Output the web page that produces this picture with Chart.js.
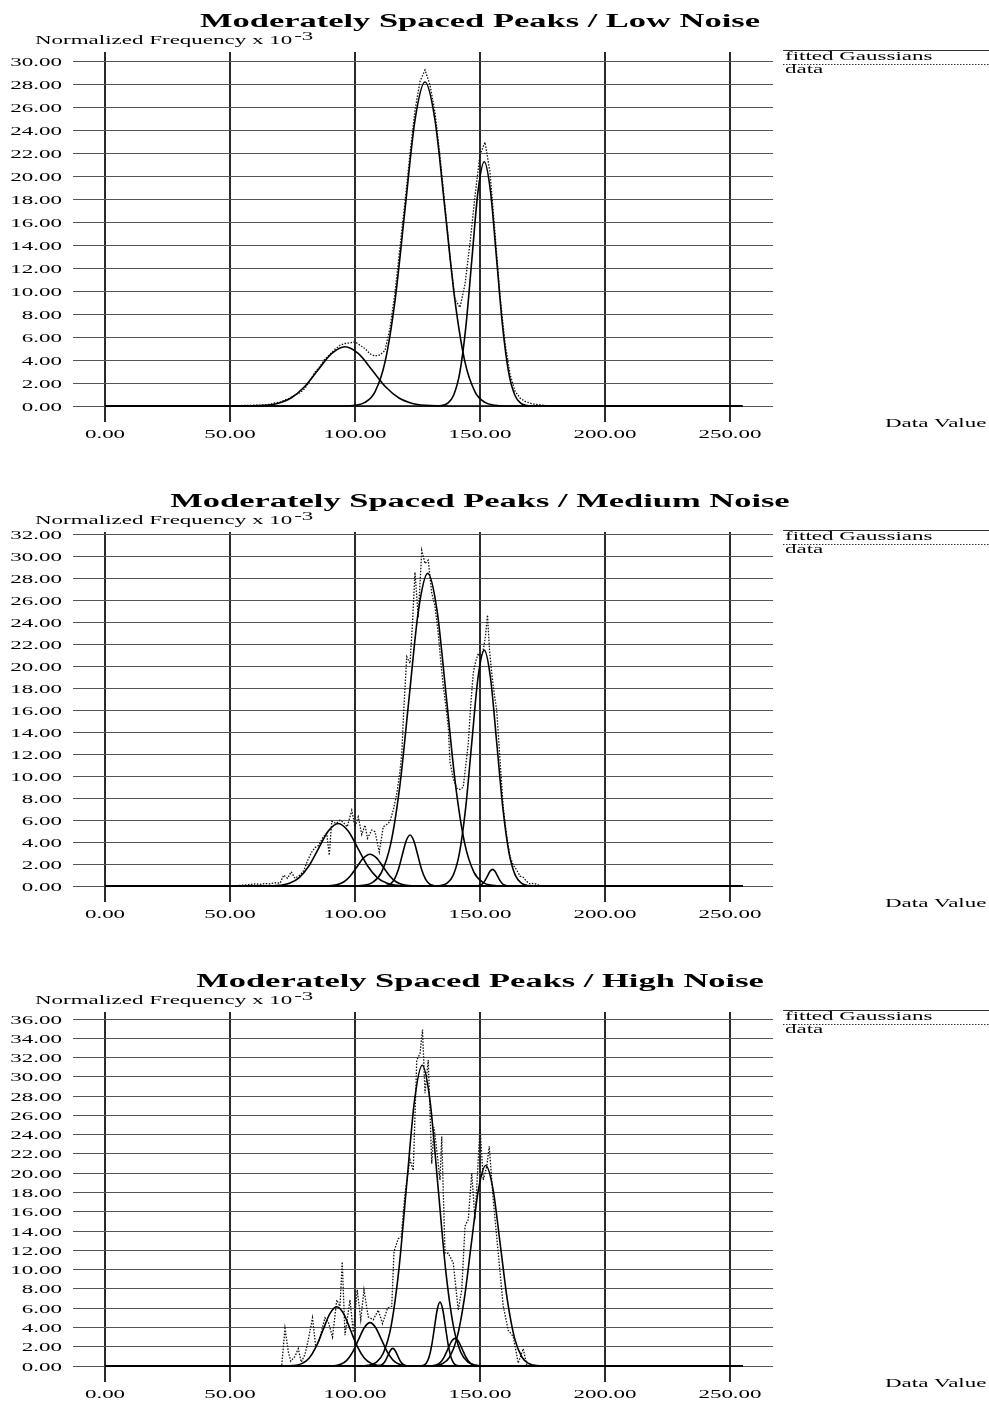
<!DOCTYPE html>
<html>
<head>
<meta charset="utf-8">
<title>Moderately Spaced Peaks</title>
<script src="https://cdn.jsdelivr.net/npm/chart.js@4.4.1/dist/chart.umd.min.js"></script>
<style>
  html, body { margin: 0; padding: 0; background: #fff; overflow: hidden; }
  canvas { display: block; }
</style>
</head>
<body>
<canvas id="low" width="989" height="480"></canvas>
<canvas id="medium" width="989" height="480"></canvas>
<canvas id="high" width="989" height="480"></canvas>
<script>
// ---- data ----
const titles = [
  "Moderately Spaced Peaks / Low Noise",
  "Moderately Spaced Peaks / Medium Noise",
  "Moderately Spaced Peaks / High Noise",
];
const xTicks = [0, 50, 100, 150, 200, 250];
const lowYTicks = [0, 2, 4, 6, 8, 10, 12, 14, 16, 18, 20, 22, 24, 26, 28, 30];
const medYTicks = [0, 2, 4, 6, 8, 10, 12, 14, 16, 18, 20, 22, 24, 26, 28, 30, 32];
const highYTicks = [0, 2, 4, 6, 8, 10, 12, 14, 16, 18, 20, 22, 24, 26, 28, 30, 32, 34, 36];

// Low noise: fitted curves
const lowFit1 = [[0,0],[52.8,0],[58.2,0.011],[63.6,0.057],[69,0.227],[74.4,0.7],[79.8,1.68],[85.2,3.14],[90.6,4.56],[96,5.17],[101.4,4.56],[106.8,3.14],[112.2,1.68],[117.6,0.7],[123,0.227],[128.4,0.057],[133.8,0.011],[139.2,0],[255,0]];
const lowFit2 = [[0,0],[96,0],[100,0.06],[104,0.31],[108,1.24],[112,3.82],[116,9.17],[120,17.13],[124,24.93],[128,28.25],[132,24.93],[136,17.13],[140,9.17],[144,3.82],[148,1.24],[152,0.31],[156,0.06],[160,0],[255,0]];
const lowFit3 = [[0,0],[132.1,0],[134.55,0.047],[137,0.236],[139.45,0.935],[141.9,2.88],[144.35,6.92],[146.8,12.92],[149.25,18.8],[151.7,21.3],[154.15,18.8],[156.6,12.92],[159.05,6.92],[161.5,2.88],[163.95,0.935],[166.4,0.236],[168.85,0.047],[171.3,0],[255,0]];
const lowData = [[40,0],[42,0.01],[44,0.02],[46,0.01],[48,0.03],[50,0.02],[52,0.04],[54,0.03],[56,0.06],[58,0.05],[60,0.08],[62,0.06],[64,0.12],[66,0.15],[68,0.28],[70,0.33],[72,0.52],[74,0.7],[76,0.95],[78,1.15],[80,1.55],[82,2.2],[84,2.95],[86,3.45],[88,4.1],[90,4.5],[92,4.95],[94,5.3],[96,5.45],[98,5.5],[100,5.6],[102,5.3],[104,5.0],[106,4.55],[108,4.35],[110,4.45],[112,4.85],[114,6.8],[116,9.9],[118,13.9],[120,17.8],[122,22.0],[124,25.8],[126,28.3],[128,29.3],[130,28.0],[132,25.6],[134,21.8],[136,17.4],[138,13.0],[140,9.3],[142,8.6],[144,10.6],[146,14.2],[148,18.3],[150,21.9],[152,23.0],[154,20.4],[156,15.1],[158,9.6],[160,5.5],[162,2.8],[164,1.3],[166,0.7],[168,0.4],[170,0.25],[172,0.15],[174,0.1],[176,0.05],[178,0.02],[180,0]];

// Medium noise: fitted curves
const medFit1 = [[0,0],[62.1,0],[66,0.013],[69.9,0.063],[73.8,0.25],[77.7,0.77],[81.6,1.85],[85.5,3.46],[89.4,5.03],[93.3,5.7],[97.2,5.03],[101.1,3.46],[105,1.85],[108.9,0.77],[112.8,0.25],[116.7,0.063],[120.6,0.013],[124.5,0],[255,0]];
const medFit2 = [[0,0],[85.2,0],[87.8,0.006],[90.4,0.032],[93,0.127],[95.6,0.39],[98.2,0.94],[100.8,1.76],[103.4,2.56],[106,2.9],[108.6,2.56],[111.2,1.76],[113.8,0.94],[116.4,0.39],[119,0.127],[121.6,0.032],[124.2,0.006],[126.8,0],[255,0]];
const medFit3 = [[0,0],[109.6,0],[111.15,0.01],[112.7,0.052],[114.25,0.204],[115.8,0.63],[117.35,1.51],[118.9,2.82],[120.45,4.1],[122,4.65],[123.55,4.1],[125.1,2.82],[126.65,1.51],[128.2,0.63],[129.75,0.204],[131.3,0.052],[132.85,0.01],[134.4,0],[255,0]];
const medFit4 = [[0,0],[99.5,0],[103.2,0.063],[106.9,0.316],[110.6,1.25],[114.3,3.86],[118,9.25],[121.7,17.29],[125.4,25.15],[129.1,28.5],[132.8,25.15],[136.5,17.29],[140.2,9.25],[143.9,3.86],[147.6,1.25],[151.3,0.316],[155,0.063],[158.7,0],[255,0]];
const medFit5 = [[0,0],[131.7,0],[134.2,0.047],[136.7,0.239],[139.2,0.944],[141.7,2.91],[144.2,6.98],[146.7,13.04],[149.2,18.97],[151.7,21.5],[154.2,18.97],[156.7,13.04],[159.2,6.98],[161.7,2.91],[164.2,0.944],[166.7,0.239],[169.2,0.047],[171.7,0],[255,0]];
const medFit6 = [[0,0],[147,0],[148,0.003],[149,0.017],[150,0.067],[151,0.206],[152,0.49],[153,0.92],[154,1.34],[155,1.52],[156,1.34],[157,0.92],[158,0.49],[159,0.206],[160,0.067],[161,0.017],[162,0.003],[163,0],[255,0]];
const medData = [[50,0],[54,0.05],[56,0.1],[58,0.12],[60,0.2],[62,0.15],[64,0.22],[66,0.2],[68,0.3],[70,0.25],[71.5,1.0],[73,0.7],[74.5,1.3],[76,0.7],[78,1.0],[79.5,1.4],[81,2.3],[82.7,3.1],[84,3.5],[85.5,3.7],[87.3,4.5],[88.7,4.8],[89.7,2.8],[90.7,5.9],[92.4,5.7],[94,6.0],[95.3,5.8],[96.9,5.4],[98.7,6.9],[100,5.4],[101.3,6.3],[102.7,4.7],[104,5.55],[105,4.35],[106.7,5.1],[108,4.95],[109.7,3.1],[111.3,5.4],[112.7,5.6],[114,5.9],[115.3,6.9],[116.7,8.4],[118,10.5],[118.7,12.1],[119.5,16.0],[120.7,20.9],[122,20.3],[123,24.0],[124,28.6],[125.3,24.5],[126.7,30.6],[128,29.4],[129.3,29.7],[130.7,26.7],[132,25.5],[133.3,23.0],[134.3,20.5],[135.3,18.2],[136.3,16.5],[137.3,14.5],[138,11.3],[139.3,9.8],[140.7,8.9],[142,8.8],[143.3,9.0],[144.3,11.0],[145.3,13.0],[146.3,16.5],[147.3,19.4],[148.3,20.5],[149.3,21.2],[150.3,20.8],[151.3,21.5],[152.2,22.8],[153,24.7],[153.8,21.5],[154.7,19.4],[155.7,17.5],[156.7,16.0],[158,11.5],[159.3,7.2],[160.7,4.5],[162,2.7],[163.3,1.9],[164.7,1.45],[166,0.9],[167.3,0.8],[168.7,0.4],[170,0.2],[171.5,0.25],[173.3,0.1],[175,0]];

// High noise: fitted curves
const highFit1 = [[0,0],[70.7,0],[73.45,0.0135],[76.2,0.068],[78.95,0.27],[81.7,0.83],[84.45,2.0],[87.2,3.73],[89.95,5.43],[92.7,6.15],[95.45,5.43],[98.2,3.73],[100.95,2.0],[103.7,0.83],[106.45,0.27],[109.2,0.068],[111.95,0.0135],[114.7,0],[255,0]];
const highFit2 = [[0,0],[87.6,0],[89.9,0.01],[92.2,0.05],[94.5,0.198],[96.8,0.61],[99.1,1.46],[101.4,2.73],[103.7,3.97],[106,4.5],[108.3,3.97],[110.6,2.73],[112.9,1.46],[115.2,0.61],[117.5,0.198],[119.8,0.05],[122.1,0.01],[124.4,0],[255,0]];
const highFit3 = [[0,0],[107.5,0],[108.45,0.004],[109.4,0.02],[110.35,0.08],[111.3,0.248],[112.25,0.594],[113.2,1.11],[114.15,1.615],[115.1,1.83],[116.05,1.615],[117,1.11],[117.95,0.594],[118.9,0.248],[119.85,0.08],[120.8,0.02],[121.75,0.004],[122.7,0],[255,0]];
const highFit4 = [[0,0],[102.1,0],[105.2,0.069],[108.3,0.346],[111.4,1.37],[114.5,4.22],[117.6,10.13],[120.7,18.92],[123.8,27.53],[126.9,31.2],[130,27.53],[133.1,18.92],[136.2,10.13],[139.3,4.22],[142.4,1.37],[145.5,0.346],[148.6,0.069],[151.7,0],[255,0]];
const highFit5 = [[0,0],[125.2,0],[126.3,0.015],[127.4,0.074],[128.5,0.29],[129.6,0.9],[130.7,2.16],[131.8,4.03],[132.9,5.86],[134,6.64],[135.1,5.86],[136.2,4.03],[137.3,2.16],[138.4,0.9],[139.5,0.29],[140.6,0.074],[141.7,0.015],[142.8,0],[255,0]];
const highFit6 = [[0,0],[128.4,0],[129.85,0.006],[131.3,0.032],[132.75,0.126],[134.2,0.39],[135.65,0.93],[137.1,1.74],[138.55,2.53],[140,2.87],[141.45,2.53],[142.9,1.74],[144.35,0.93],[145.8,0.39],[147.25,0.126],[148.7,0.032],[150.15,0.006],[151.6,0],[255,0]];
const highFit7 = [[0,0],[129.1,0],[132,0.046],[134.9,0.23],[137.8,0.91],[140.7,2.81],[143.6,6.75],[146.5,12.62],[149.4,18.36],[152.3,20.8],[155.2,18.36],[158.1,12.62],[161,6.75],[163.9,2.81],[166.8,0.91],[169.7,0.23],[172.6,0.046],[175.5,0],[255,0]];
const highData = [[70.7,0.1],[72,3.9],[73.3,1.5],[74.3,0.5],[76,1.0],[77.3,1.8],[78.5,0.4],[80,1.2],[81.3,2.7],[83,5.0],[84.3,2.0],[85.7,2.7],[86.7,3.7],[88,5.0],[89.3,4.6],[91,3.0],[92.7,6.85],[94,6.2],[94.9,10.8],[96,3.2],[98,6.85],[99.3,3.5],[100.9,7.9],[102.3,4.8],[103.6,7.9],[105.3,5.1],[107.3,4.8],[109.3,5.8],[111,4.4],[113,6.0],[114.7,6.2],[115.6,11.9],[117.3,13.2],[118.5,13.4],[120,17.9],[122,21.4],[123.3,20.3],[124.7,31.75],[126,32.4],[127,34.9],[128,28.3],[129.3,31.75],[130.7,21.0],[131.6,24.8],[132.7,22.4],[134,19.3],[134.7,23.8],[136,11.7],[137.3,11.7],[139.3,10.7],[141.3,5.8],[142.7,7.9],[144,14.5],[145.3,15.2],[146.7,20.0],[148,15.2],[150,24.8],[151.3,19.3],[152.7,20.7],[153.7,22.8],[155.3,17.2],[157.3,11.7],[159.3,6.2],[161.3,3.7],[163.3,3.05],[165.3,0.3],[167.3,1.8],[168.7,0.1]];

// ---- drawing ----
const serif = '"Liberation Serif", "Times New Roman", serif';
let stretch = null; // the reference text is drawn wide

function wideText(ctx, text, x, y, align, font) {
  ctx.save();
  ctx.font = font;
  ctx.textAlign = align;
  ctx.textBaseline = "alphabetic";
  ctx.fillStyle = "#000";
  ctx.translate(x, y);
  ctx.scale(stretch, 1);
  ctx.fillText(text, 0, 0);
  ctx.restore();
}

const panelText = {
  id: "panelText",
  afterDraw(chart, args, opts) {
    const ctx = chart.ctx;
    if (stretch === null) {
      ctx.save();
      ctx.font = "bold 18px " + serif;
      stretch = 560 / ctx.measureText(titles[0]).width;
      ctx.restore();
    }
    const small = "12px " + serif;

    wideText(ctx, opts.title, 480, 27, "center", "bold 18px " + serif);

    // axis title with superscript
    const label = "Normalized Frequency x 10";
    ctx.save();
    ctx.font = small;
    const labelW = ctx.measureText(label).width * stretch;
    ctx.restore();
    wideText(ctx, label, 35, 44, "left", small);
    wideText(ctx, "-3", 35 + labelW + 2, 40, "left", small);

    const xs = chart.scales.x;
    const ys = chart.scales.y;
    opts.yTicks.forEach((v) => {
      wideText(ctx, v.toFixed(2), 62, ys.getPixelForValue(v) + 4.5, "right", small);
    });
    xTicks.forEach((v) => {
      wideText(ctx, v.toFixed(2), xs.getPixelForValue(v), 437.5, "center", small);
    });
    wideText(ctx, "Data Value", 885, 427, "left", small);

    // legend on the right
    ctx.save();
    ctx.strokeStyle = "#333";
    ctx.lineWidth = 1;
    ctx.beginPath();
    ctx.moveTo(783, 50.5);
    ctx.lineTo(989, 50.5);
    ctx.stroke();
    ctx.setLineDash([1.5, 1.5]);
    ctx.beginPath();
    ctx.moveTo(783, 64.5);
    ctx.lineTo(989, 64.5);
    ctx.stroke();
    ctx.restore();
    wideText(ctx, "fitted Gaussians", 785, 60, "left", small);
    wideText(ctx, "data", 785, 73, "left", small);
  },
};

function toPoints(pairs) {
  return pairs.map((p) => ({ x: p[0], y: p[1] }));
}

function renderPanel(canvasId, title, yTicks, yMax, fits, data) {
  const datasets = fits.map((fit) => ({
    data: toPoints(fit),
    borderColor: "#000",
    borderWidth: 1.6,
    pointRadius: 0,
    fill: false,
    cubicInterpolationMode: "monotone",
    clip: 4,
  }));
  datasets.push({
    data: toPoints(data),
    borderColor: "#111",
    borderWidth: 1.3,
    borderDash: [1.5, 1.5],
    pointRadius: 0,
    fill: false,
    tension: 0,
    clip: 4,
  });

  new Chart(document.getElementById(canvasId), {
    type: "line",
    data: { datasets: datasets },
    plugins: [panelText],
    options: {
      responsive: false,
      animation: false,
      devicePixelRatio: 1,
      events: [],
      layout: { padding: { left: 73, right: 216, top: 52, bottom: 58 } },
      plugins: {
        legend: { display: false },
        tooltip: { enabled: false },
        panelText: { title: title, yTicks: yTicks },
      },
      scales: {
        x: {
          type: "linear",
          min: -12.8,
          max: 267.2,
          afterBuildTicks: (axis) => {
            axis.ticks = xTicks.map((v) => ({ value: v }));
          },
          ticks: { display: false },
          border: { display: false },
          grid: { color: "#2a2a2a", lineWidth: 2, drawTicks: true, tickLength: 16 },
        },
        y: {
          type: "linear",
          min: 0,
          max: yMax,
          afterBuildTicks: (axis) => {
            axis.ticks = yTicks.map((v) => ({ value: v }));
          },
          ticks: { display: false },
          border: { display: false },
          grid: { color: "#555", lineWidth: 1, drawTicks: false },
        },
      },
    },
  });
}

renderPanel("low", titles[0], lowYTicks, 30.87, [lowFit1, lowFit2, lowFit3], lowData);
renderPanel("medium", titles[1], medYTicks, 32.27, [medFit1, medFit2, medFit3, medFit4, medFit5, medFit6], medData);
renderPanel("high", titles[2], highYTicks, 36.73, [highFit1, highFit2, highFit3, highFit4, highFit5, highFit6, highFit7], highData);
</script>
</body>
</html>
